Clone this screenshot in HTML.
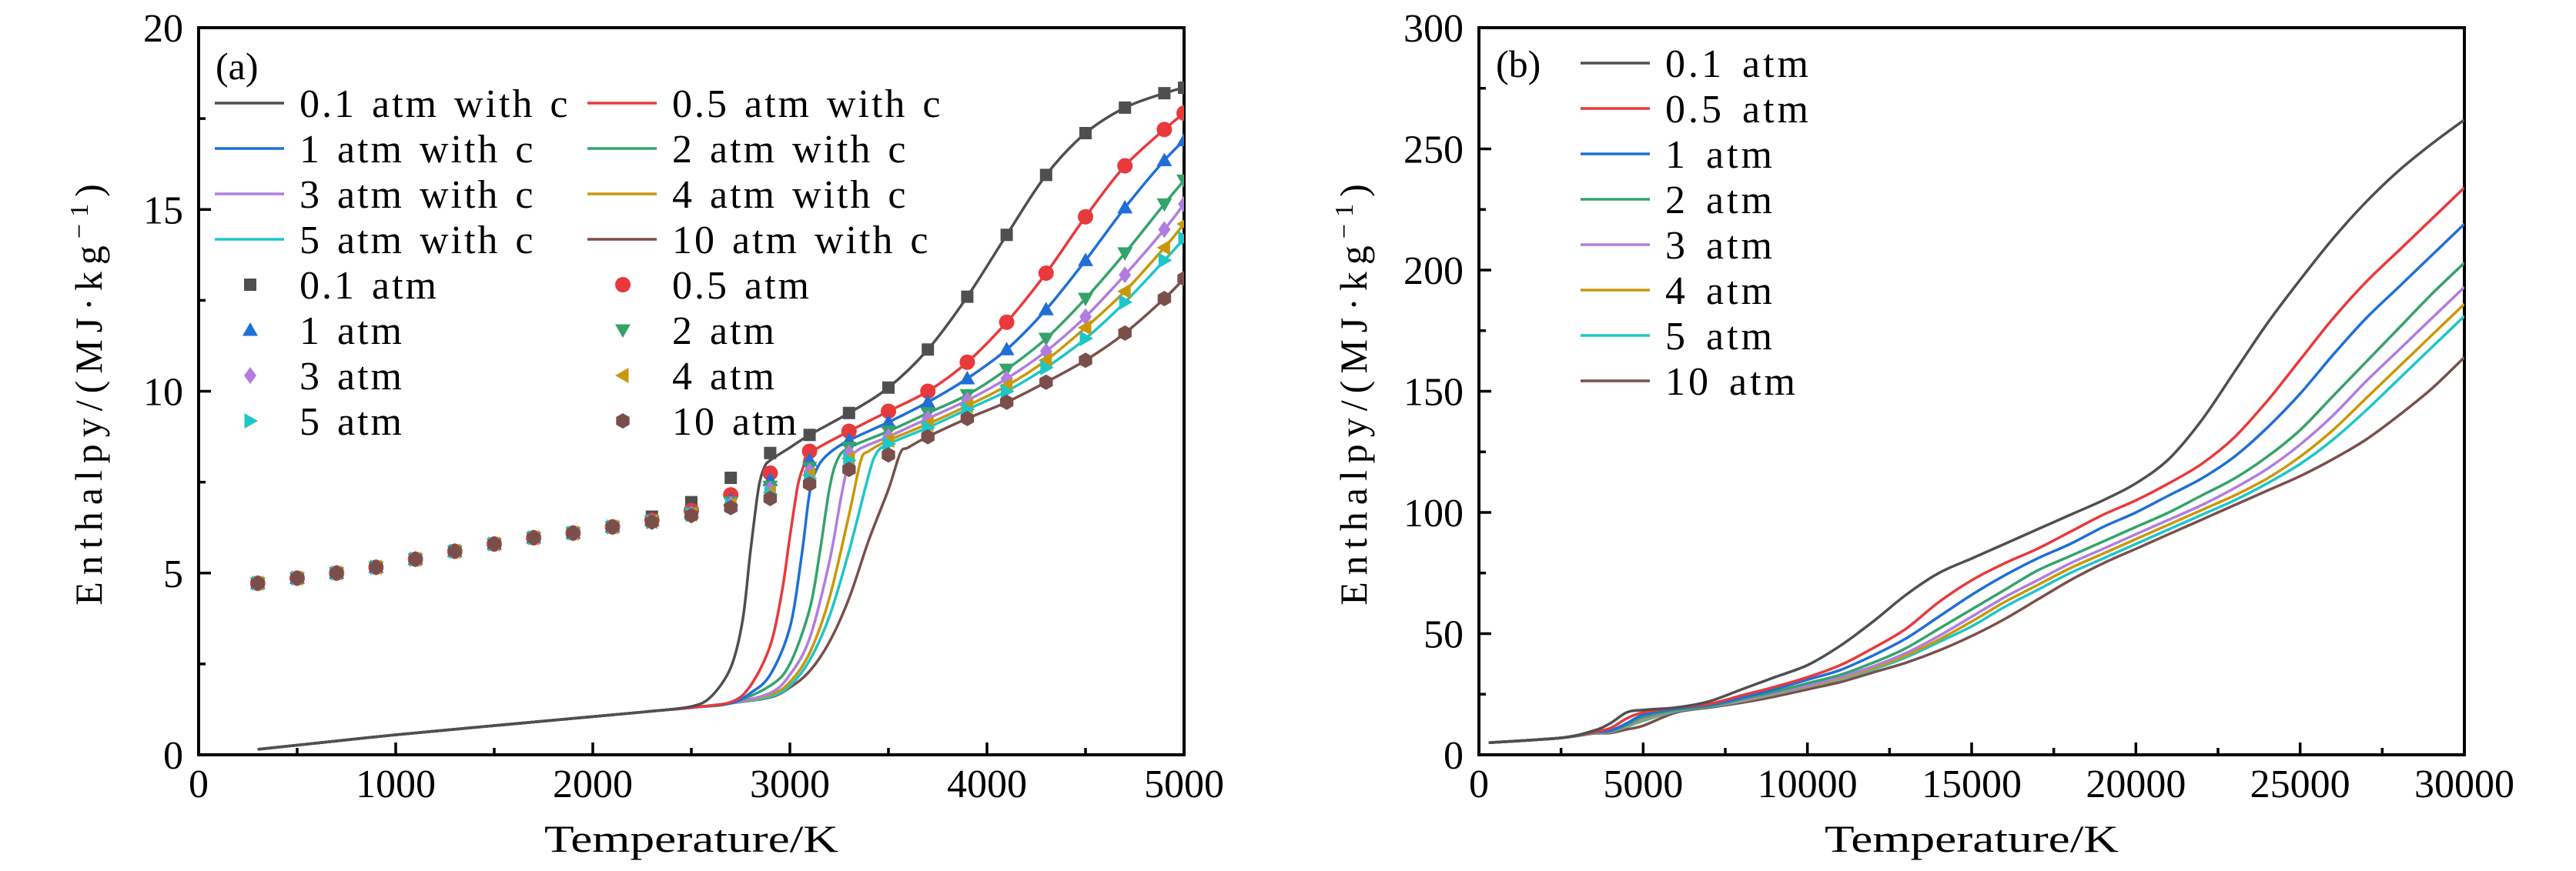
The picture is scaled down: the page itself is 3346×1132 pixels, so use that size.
<!DOCTYPE html>
<html><head><meta charset="utf-8"><style>
html,body{margin:0;padding:0;background:#fff;}
svg{display:block;}
svg text{font-family:"Liberation Serif","DejaVu Serif",serif;}
</style></head><body>
<svg id="fig" width="3346" height="1132" viewBox="0 0 3346 1132" xmlns="http://www.w3.org/2000/svg" font-family="Liberation Serif, serif">
<defs>
<clipPath id="clipA"><rect x="258" y="36" width="1280" height="945"/></clipPath>
<clipPath id="clipB"><rect x="1921" y="36" width="1280" height="945"/></clipPath>
</defs>
<g id="panelA"></g>
<g id="panelB"></g>
</svg>
<script>
// ---------- Panel A data ----------
const seriesNamesA = ["0.1","0.5","1","2","3","4","5","10"];
const colorsA = ["#4f4f4f","#e8393c","#1f6fd6","#34a36a","#b07ddf","#c9980a","#1cc6c9","#7a4f4b"];
const markerTemps = [300,500,700,900,1100,1300,1500,1700,1900,2100,2300,2500,2700,2900,3100,3300,3500,3700,3900,4100,4300,4500,4700,4900,5000];
const mk01 = [4.72,4.86,5.0,5.16,5.38,5.6,5.8,5.97,6.1,6.27,6.55,6.95,7.62,8.3,8.8,9.4,10.1,11.15,12.6,14.3,15.95,17.1,17.8,18.2,18.35];
const mk05 = [4.72,4.86,5.0,5.16,5.38,5.6,5.8,5.97,6.1,6.27,6.45,6.72,7.15,7.75,8.35,8.9,9.45,10.0,10.8,11.9,13.25,14.8,16.2,17.2,17.65];
const mk1  = [4.72,4.86,5.0,5.16,5.38,5.6,5.8,5.97,6.1,6.27,6.45,6.68,7.0,7.55,8.1,8.65,9.15,9.7,10.35,11.15,12.25,13.6,15.05,16.35,16.9];
const mk2  = [4.72,4.86,5.0,5.16,5.38,5.6,5.8,5.97,6.1,6.27,6.43,6.65,6.95,7.38,7.9,8.45,8.9,9.4,9.9,10.6,11.45,12.55,13.8,15.15,15.8];
const mk3  = [4.72,4.86,5.0,5.16,5.38,5.6,5.8,5.97,6.1,6.27,6.42,6.63,6.9,7.3,7.8,8.3,8.75,9.25,9.75,10.35,11.1,12.05,13.2,14.45,15.15];
const mk4  = [4.72,4.86,5.0,5.16,5.38,5.6,5.8,5.97,6.1,6.27,6.42,6.62,6.88,7.22,7.7,8.15,8.65,9.1,9.6,10.15,10.85,11.75,12.75,13.95,14.6];
const mk5  = [4.72,4.86,5.0,5.16,5.38,5.6,5.8,5.97,6.1,6.27,6.41,6.61,6.86,7.17,7.6,8.1,8.55,9.0,9.5,10.0,10.65,11.45,12.45,13.6,14.2];
const mk10 = [4.72,4.86,5.0,5.16,5.38,5.6,5.8,5.97,6.1,6.27,6.4,6.58,6.8,7.05,7.45,7.85,8.25,8.75,9.25,9.7,10.25,10.85,11.6,12.55,13.1];
const markerValuesA = [mk01,mk05,mk1,mk2,mk3,mk4,mk5,mk10];
const markerShapes = ["square","circle","tri-up","tri-down","diamond","tri-left","tri-right","hexagon"];
// line curves (with condensed phase)
const ln01T = [300,1000,2000,2300,2500,2600,2700,2760,2800,2840,2870,2900,3000,3100,3300,3500,3700,3900,4100,4300,4500,4700,4900,5000];
const ln01H = [0.15,0.55,1.05,1.2,1.33,1.6,2.4,3.7,5.6,7.3,7.9,8.1,8.45,8.8,9.4,10.1,11.15,12.6,14.3,15.95,17.1,17.8,18.2,18.35];
const ln05T = [300,1000,2000,2300,2500,2700,2800,2900,2960,3000,3040,3070,3100,3300,3500,3700,3900,4100,4300,4500,4700,4900,5000];
const ln05H = [0.15,0.55,1.05,1.2,1.3,1.45,1.9,3.0,4.5,6.0,7.4,7.95,8.3,8.9,9.45,10.0,10.8,11.9,13.25,14.8,16.2,17.2,17.65];
const ln1T = [300,1000,2000,2300,2500,2700,2800,2900,3000,3060,3100,3140,3200,3300,3500,3700,3900,4100,4300,4500,4700,4900,5000];
const ln1H = [0.15,0.55,1.05,1.2,1.3,1.42,1.7,2.2,3.5,5.5,7.2,7.9,8.3,8.65,9.15,9.7,10.35,11.15,12.25,13.6,15.05,16.35,16.9];
const ln2T = [300,1000,2000,2300,2500,2700,2900,3000,3100,3150,3200,3240,3300,3500,3700,3900,4100,4300,4500,4700,4900,5000];
const ln2H = [0.15,0.55,1.05,1.2,1.3,1.42,1.9,2.5,4.0,5.5,7.3,8.1,8.45,8.9,9.4,9.9,10.6,11.45,12.55,13.8,15.15,15.8];
const ln3T = [300,1000,2000,2300,2500,2700,2900,3000,3100,3200,3260,3300,3350,3500,3700,3900,4100,4300,4500,4700,4900,5000];
const ln3H = [0.15,0.55,1.05,1.2,1.3,1.42,1.7,2.2,3.2,5.3,7.1,8.05,8.4,8.75,9.25,9.75,10.35,11.1,12.05,13.2,14.45,15.15];
const ln4T = [300,1000,2000,2300,2500,2700,2900,3000,3100,3200,3300,3360,3400,3500,3700,3900,4100,4300,4500,4700,4900,5000];
const ln4H = [0.15,0.55,1.05,1.2,1.3,1.42,1.65,2.0,2.8,4.3,6.6,8.1,8.35,8.65,9.1,9.6,10.15,10.85,11.75,12.75,13.95,14.6];
const ln5T = [300,1000,2000,2300,2500,2700,2900,3000,3100,3200,3300,3400,3440,3500,3700,3900,4100,4300,4500,4700,4900,5000];
const ln5H = [0.15,0.55,1.05,1.2,1.3,1.42,1.6,1.9,2.6,3.8,5.6,7.7,8.3,8.55,9.0,9.5,10.0,10.65,11.45,12.45,13.6,14.2];
const ln10T = [300,1000,2000,2300,2500,2700,2900,3000,3100,3200,3300,3400,3500,3560,3600,3700,3900,4100,4300,4500,4700,4900,5000];
const ln10H = [0.15,0.55,1.05,1.2,1.3,1.42,1.58,1.85,2.3,3.1,4.3,5.9,7.3,8.3,8.45,8.75,9.25,9.7,10.25,10.85,11.6,12.55,13.1];
const linesA = [[ln01T,ln01H],[ln05T,ln05H],[ln1T,ln1H],[ln2T,ln2H],[ln3T,ln3H],[ln4T,ln4H],[ln5T,ln5H],[ln10T,ln10H]];
const xTicksA = [0,1000,2000,3000,4000,5000];
const yTicksA = [0,5,10,15,20];

// ---------- Panel B data ----------
const seriesNamesB = ["0.1 atm","0.5 atm","1 atm","2 atm","3 atm","4 atm","5 atm","10 atm"];
const tempsB = [300,2500,3500,4000,4500,5000,6000,7000,8000,9000,10000,11000,12000,13000,14000,15000,16000,17000,18000,19000,20000,21000,22000,23000,24000,25000,26000,27000,28000,29000,30000];
const hb01 = [5,7,10,13,17.5,18.5,19.5,22,27,32,37,45,55,66,75,81,87,93,99,105,112,122,138,158,178,196,213,228,241,252,262];
const hb05 = [5,7,9.5,11,15,17.5,19.5,21,24.5,28,32,37,44,52,63,72,79,85,92,99,105,112,120,131,146,163,180,195,208,221,234];
const hb1  = [5,7,9.3,10,13,16.5,19,20.5,23.5,27,31,35,41,48,57,66,74,81,87,94,100,107,114,123,135,149,165,180,193,206,219];
const hb2  = [5,7,9.2,9.8,12.3,15.5,18.5,20,23,26,29.5,33,38,44,52,60,68,76,82,88,94,100,107,114,123,134,148,162,176,190,203];
const hb3  = [5,7,9.1,9.6,12,15,18.3,20,22.5,25.5,28.5,32,36.5,42,49,57,65,72,79,85,91,97,103,110,118,128,140,154,167,180,193];
const hb4  = [5,7,9.0,9.5,11.8,14.5,18.2,19.9,22.3,25.2,28.2,31.5,35.7,41,47.5,55,63,70,77,83,89,95,101,107,114,123,134,147,160,173,186];
const hb5  = [5,7,9.0,9.4,11.6,14,18,19.8,22.1,25,28,31.2,35.2,40.2,46.5,53,61,68,75,81,87,93,99,105,112,120,130,142,155,168,181];
const hb10 = [5,7,8.8,9,10.5,12,17.5,19.5,21.5,24,27,30,34,38,43,49,56,64,72,79,85,91,97,103,109,115,122,130,140,151,164];
const valuesB = [hb01,hb05,hb1,hb2,hb3,hb4,hb5,hb10];
const xTicksB = [0,5000,10000,15000,20000,25000,30000];
const yTicksB = [0,50,100,150,200,250,300];

const NS = "http://www.w3.org/2000/svg";
const FONT = '"Liberation Serif", "DejaVu Serif", serif';
function mk(tag, attrs, parent){
  const e = document.createElementNS(NS, tag);
  for (const k in attrs) e.setAttribute(k, attrs[k]);
  if (tag === "text") e.style.fontFamily = FONT;
  parent.appendChild(e);
  return e;
}
function smoothPath(pts){
  let d = "M"+pts[0][0].toFixed(1)+","+pts[0][1].toFixed(1);
  for (let i=0;i<pts.length-1;i++){
    const p0 = pts[i-1]||pts[i], p1=pts[i], p2=pts[i+1], p3=pts[i+2]||pts[i+1];
    const t = 0.16;
    const c1x = p1[0]+(p2[0]-p0[0])*t, c1y = p1[1]+(p2[1]-p0[1])*t;
    const c2x = p2[0]-(p3[0]-p1[0])*t, c2y = p2[1]-(p3[1]-p1[1])*t;
    d += " C"+c1x.toFixed(1)+","+c1y.toFixed(1)+" "+c2x.toFixed(1)+","+c2y.toFixed(1)+" "+p2[0].toFixed(1)+","+p2[1].toFixed(1);
  }
  return d;
}
function markerPath(shape, cx, cy, r){
  const p = (arr)=>"M"+arr.map(a=>a[0].toFixed(1)+","+a[1].toFixed(1)).join(" L")+" Z";
  switch(shape){
    case "square": return p([[cx-r*0.8,cy-r*0.8],[cx+r*0.8,cy-r*0.8],[cx+r*0.8,cy+r*0.8],[cx-r*0.8,cy+r*0.8]]);
    case "tri-up": return p([[cx,cy-r],[cx+r,cy+r*0.75],[cx-r,cy+r*0.75]]);
    case "tri-down": return p([[cx,cy+r],[cx+r,cy-r*0.75],[cx-r,cy-r*0.75]]);
    case "tri-left": return p([[cx-r,cy],[cx+r*0.75,cy-r],[cx+r*0.75,cy+r]]);
    case "tri-right": return p([[cx+r,cy],[cx-r*0.75,cy-r],[cx-r*0.75,cy+r]]);
    case "diamond": return p([[cx,cy-r*1.1],[cx+r*0.8,cy],[cx,cy+r*1.1],[cx-r*0.8,cy]]);
    case "hexagon": { const a=[]; for(let k=0;k<6;k++){const ang=Math.PI/6+k*Math.PI/3; a.push([cx+r*Math.cos(ang),cy+r*Math.sin(ang)]);} return p(a); }
    default: return "M"+(cx-r)+","+cy+" a"+r+","+r+" 0 1,0 "+(2*r)+",0 a"+r+","+r+" 0 1,0 "+(-2*r)+",0";
  }
}
function drawAxes(g, L, R, T, B, xTicks, yTicks, xmax, ymax, xMinorStep, yMinorStep, ytitleX, tag){
  const sx = v=>L+(v/xmax)*(R-L), sy = v=>B-(v/ymax)*(B-T);
  const f = mk("rect",{x:L,y:T,width:R-L,height:B-T,fill:"none",stroke:"#000","stroke-width":4},g);
  
  
  for (let v=0; v<=xmax+1e-9; v+=xMinorStep){
    const major = xTicks.indexOf(v)>=0;
    const t = mk("line",{x1:sx(v),x2:sx(v),y1:B,y2:B-(major?16:9),stroke:"#000","stroke-width":3.5},g);
    
    
  }
  for (let v=0; v<=ymax+1e-9; v+=yMinorStep){
    const major = yTicks.indexOf(v)>=0;
    const t = mk("line",{x1:L,x2:L+(major?16:9),y1:sy(v),y2:sy(v),stroke:"#000","stroke-width":3.5},g);
    
    
  }
  xTicks.forEach(v=>{
    const t = mk("text",{x:sx(v),y:1036,"font-size":52,"text-anchor":"middle",fill:"#000"},g);
    t.textContent = v;
    
    
  });
  yTicks.forEach(v=>{
    const t = mk("text",{x:L-20,y:sy(v)+18,"font-size":52,"text-anchor":"end",fill:"#000"},g);
    t.textContent = v;
    
    
  });
  const xt = mk("text",{x:(L+R)/2,y:1107,"font-size":50,"text-anchor":"middle",fill:"#000",textLength:382,lengthAdjust:"spacingAndGlyphs"},g);
  xt.textContent = "Temperature/K";
  
  
  const yt = mk("text",{x:0,y:0,"font-size":50,"text-anchor":"middle",fill:"#000","letter-spacing":"9",transform:"translate("+ytitleX+","+((T+B)/2)+") rotate(-90)"},g);
  yt.innerHTML = 'Enthalpy/(MJ·kg<tspan baseline-shift="super" font-size="34">−1</tspan>)';
  
  
  return [sx, sy];
}

// ---------- Draw panel A ----------
(function(){
  const g = document.getElementById("panelA");
  const [sx, sy] = drawAxes(g, 258, 1538, 36, 981, xTicksA, yTicksA, 5000, 20, 500, 2.5, 132, "a");
  const clip = mk("g",{"clip-path":"url(#clipA)"},g);
  
  
  for (let i=7;i>=0;i--){
    const pts = linesA[i][0].map((t,k)=>[sx(t), sy(linesA[i][1][k])]);
    const path = mk("path",{d:smoothPath(pts),fill:"none",stroke:colorsA[i],"stroke-width":3.5},clip);
    
    
  }
  for (let i=0;i<8;i++){
    markerValuesA[i].forEach((h,k)=>{
      const m = mk("path",{d:markerPath(markerShapes[i], sx(markerTemps[k]), sy(h), 10),fill:colorsA[i]},clip);
      
      
    });
  }
  const lab = mk("text",{x:280,y:103,"font-size":50,fill:"#000"},g);
  lab.textContent = "(a)";
  
  
  const lg = mk("g",{},g);
  
  
  for (let i=0;i<8;i++){
    const col = i%2, row = Math.floor(i/2);
    const x0 = col ? 763 : 279, y0 = 134 + row*59;
    const ln = mk("line",{x1:x0,x2:x0+90,y1:y0,y2:y0,stroke:colorsA[i],"stroke-width":3.5},lg);
    
    
    const tx = mk("text",{x:x0+110,y:y0+18,"font-size":52,"letter-spacing":"3","word-spacing":"4",fill:"#000"},lg);
    tx.textContent = seriesNamesA[i]+" atm with c";
    
    
    const y1 = 370 + row*59;
    const m = mk("path",{d:markerPath(markerShapes[i], x0+46, y1, 10),fill:colorsA[i]},lg);
    
    
    const tx2 = mk("text",{x:x0+110,y:y1+18,"font-size":52,"letter-spacing":"3","word-spacing":"4",fill:"#000"},lg);
    tx2.textContent = seriesNamesA[i]+" atm";
    
    
  }
})();

// ---------- Draw panel B ----------
(function(){
  const g = document.getElementById("panelB");
  const [sx, sy] = drawAxes(g, 1921, 3201, 36, 981, xTicksB, yTicksB, 30000, 300, 2500, 25, 1775, "b");
  const clip = mk("g",{"clip-path":"url(#clipB)"},g);
  
  
  for (let i=7;i>=0;i--){
    const pts = tempsB.map((t,k)=>[sx(t), sy(valuesB[i][k])]);
    const path = mk("path",{d:smoothPath(pts),fill:"none",stroke:colorsA[i],"stroke-width":3.5},clip);
    
    
  }
  const lab = mk("text",{x:1943,y:100,"font-size":50,fill:"#000"},g);
  lab.textContent = "(b)";
  
  
  const lg = mk("g",{},g);
  
  
  for (let i=0;i<8;i++){
    const y0 = 82 + i*59;
    const ln = mk("line",{x1:2053,x2:2143,y1:y0,y2:y0,stroke:colorsA[i],"stroke-width":3.5},lg);
    
    
    const tx = mk("text",{x:2163,y:y0+18,"font-size":52,"letter-spacing":"4","word-spacing":"6",fill:"#000"},lg);
    tx.textContent = seriesNamesB[i];
    
    
  }
})();
</script>
</body></html>
